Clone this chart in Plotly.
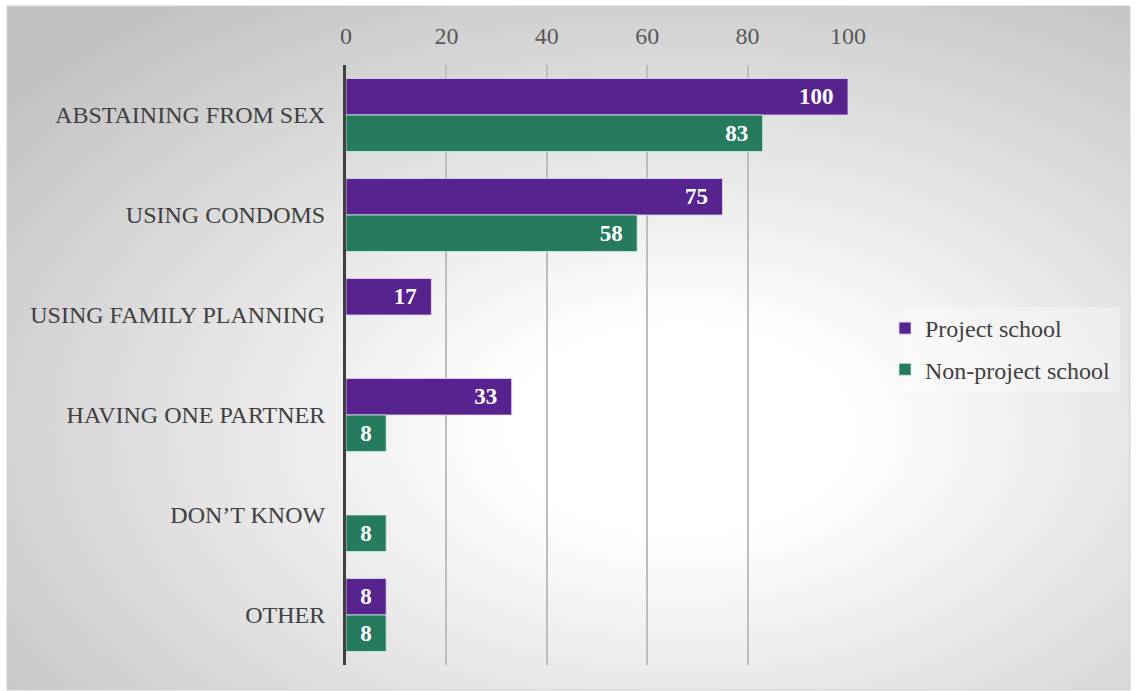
import base64
import plotly.graph_objects as go

# Responses by school type (percent)
categories = [
    "ABSTAINING FROM SEX",
    "USING CONDOMS",
    "USING FAMILY PLANNING",
    "HAVING ONE PARTNER",
    "DON\u2019T KNOW",
    "OTHER",
]
project_school = [100, 75, 17, 33, None, 8]
non_project_school = [83, 58, None, 8, 8, 8]
x_ticks = [0, 20, 40, 60, 80, 100]

W, H = 1136, 691
ML, MR, MT, MB = 346, 288, 65, 26
PW, PH = W - ML - MR, H - MT - MB

# chart-area frame in pixels
FX0, FX1, FY0, FY1 = 7, 1130, 6, 690


def px_to_paper_x(px):
    return (px - ML) / PW


def px_to_paper_y(py):
    return (H - MB - py) / PH


svg = f"""<svg xmlns='http://www.w3.org/2000/svg' width='{FX1-FX0}' height='{FY1-FY0}' preserveAspectRatio='none' viewBox='0 0 {FX1-FX0} {FY1-FY0}'>
<defs><radialGradient id='g' cx='0.6' cy='0.62' r='0.77'>
<stop offset='0' stop-color='#ffffff'/><stop offset='0.2' stop-color='#ffffff'/>
<stop offset='1' stop-color='#c2c2c2'/></radialGradient></defs>
<rect x='0' y='0' width='{FX1-FX0}' height='{FY1-FY0}' fill='url(#g)'/></svg>"""
bg_uri = "data:image/svg+xml;base64," + base64.b64encode(svg.encode()).decode()

FONT = "Liberation Serif"
PURPLE = "#57238f"
GREEN = "#267a5d"
LABEL = "<b>%{x}</b>\u00a0\u00a0"

fig = go.Figure()
fig.add_trace(go.Bar(
    y=categories, x=project_school, orientation="h", name="Project school",
    marker=dict(color=PURPLE, line=dict(color="rgba(230,215,245,0.8)", width=1)),
    texttemplate=LABEL, textposition="inside",
    insidetextanchor="end", textangle=0,
    textfont=dict(family=FONT, size=23, color="white"),
    legendgroup="a",
))
fig.add_trace(go.Bar(
    y=categories, x=non_project_school, orientation="h", name="Non-project school",
    marker=dict(color=GREEN, line=dict(color="rgba(210,240,225,0.8)", width=1)),
    texttemplate=LABEL, textposition="inside",
    insidetextanchor="end", textangle=0,
    textfont=dict(family=FONT, size=23, color="white"),
    legendgroup="b",
))

fig.update_layout(
    width=W, height=H,
    margin=dict(l=ML, r=MR, t=MT, b=MB),
    paper_bgcolor="white",
    plot_bgcolor="rgba(0,0,0,0)",
    barmode="group", bargap=0.27, bargroupgap=0,
    font=dict(family=FONT, size=24, color="#404040"),
    showlegend=True,
    legend=dict(
        x=px_to_paper_x(885), y=px_to_paper_y(306), xanchor="left", yanchor="top",
        bgcolor="rgba(0,0,0,0)", traceorder="grouped",
        tracegroupgap=7, font=dict(family=FONT, size=24, color="#404040"),
        itemwidth=30,
    ),
    images=[dict(
        source=bg_uri, xref="paper", yref="paper",
        x=px_to_paper_x(FX0), y=px_to_paper_y(FY0),
        sizex=px_to_paper_x(FX1) - px_to_paper_x(FX0),
        sizey=px_to_paper_y(FY0) - px_to_paper_y(FY1),
        xanchor="left", yanchor="top", sizing="stretch", layer="below",
    )],
    shapes=[
        dict(
            type="rect", xref="paper", yref="paper",
            x0=px_to_paper_x(FX0), x1=px_to_paper_x(FX1),
            y0=px_to_paper_y(FY1), y1=px_to_paper_y(FY0),
            line=dict(color="#d0d0d0", width=1), layer="below",
        ),
        # legend panel
        dict(
            type="rect", xref="paper", yref="paper",
            x0=px_to_paper_x(905), x1=px_to_paper_x(1120),
            y0=px_to_paper_y(392), y1=px_to_paper_y(307),
            fillcolor="rgba(255,255,255,0.35)", line=dict(width=0), layer="below",
        ),
    ],
)

fig.update_xaxes(
    side="top", range=[0, 100], tickvals=x_ticks, ticktext=[str(v) for v in x_ticks],
    showgrid=True, gridcolor="#bdbdbd", gridwidth=1.5, zeroline=False,
    showline=False, ticks="", ticklabelstandoff=15,
    tickfont=dict(family=FONT, size=24, color="#595959"),
)
fig.update_yaxes(
    autorange="reversed", showgrid=False, zeroline=False,
    showline=True, linecolor="#404040", linewidth=3, ticks="",
    ticklabelstandoff=13,
    tickfont=dict(family=FONT, size=24, color="#404040"),
)

fig.write_html("out.html")
